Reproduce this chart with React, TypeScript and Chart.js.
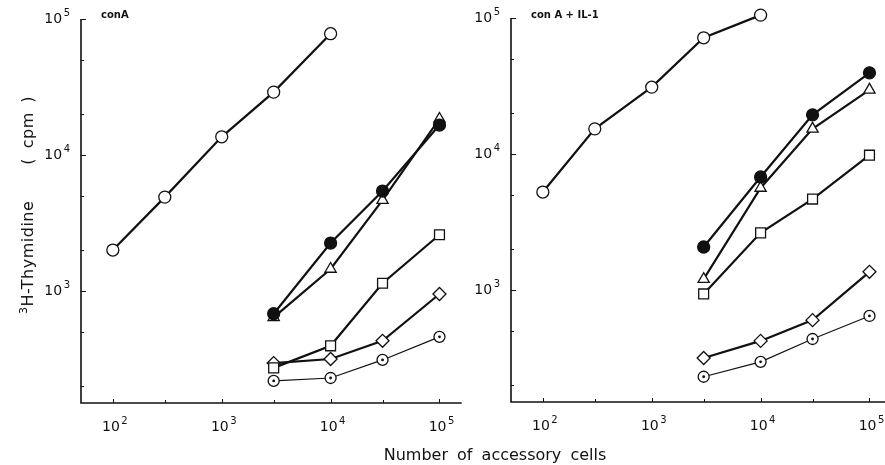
import React, { useEffect, useRef } from 'react';
import { Chart, registerables } from 'chart.js';

Chart.register(...registerables);

// x values (number of accessory cells)
const xOpen = [100, 300, 1000, 3000, 10000];
const xOther = [3000, 10000, 30000, 100000];

// conA panel (cpm)
const conAOpen = [2000, 4900, 13600, 29000, 78000];
const conAFilled = [680, 2250, 5430, 16600];
const conATriangle = [640, 1450, 4660, 18400];
const conASquare = [272, 395, 1140, 2590];
const conADiamond = [295, 316, 430, 950];
const conADotted = [218, 229, 311, 460];

// conA + IL-1 panel (cpm)
const il1Open = [5250, 15300, 31000, 71500, 105000];
const il1Filled = [2070, 6780, 19400, 39500];
const il1Triangle = [1200, 5620, 15300, 29600];
const il1Square = [935, 2630, 4660, 9800];
const il1Diamond = [316, 422, 600, 1360];
const il1Dotted = [230, 296, 436, 644];

// ticks
const xMajorTicks = [100, 1000, 10000, 100000];
const xTickLabels = ['10^2', '10^3', '10^4', '10^5'];
const xMinorTicks = [300, 3000, 30000];
const yMajorTicks = [1000, 10000, 100000];
const yTickLabels = ['10^3', '10^4', '10^5'];
const yMinorTicks = [200, 500, 2000, 5000, 20000, 50000];

const panelTitles = ['conA', 'con A + IL-1'];

const INK = '#111';
const FONT = '"DejaVu Sans", sans-serif';

function drawPower(ctx: CanvasRenderingContext2D, text: string, x: number, y: number, align: string) {
  const [base, exp] = text.split('^');
  ctx.font = `14px ${FONT}`;
  const bw = ctx.measureText(base).width;
  ctx.font = `10px ${FONT}`;
  const ew = ctx.measureText(exp).width;
  const gap = 1.5;
  const total = bw + gap + ew;
  const left = align === 'right' ? x - total : x - total / 2;
  ctx.textAlign = 'left';
  ctx.textBaseline = 'middle';
  ctx.font = `14px ${FONT}`;
  ctx.fillText(base, left, y);
  ctx.font = `10px ${FONT}`;
  ctx.fillText(exp, left + bw + gap, y - 6);
}

const axesPlugin = {
  id: 'logAxes',
  beforeDatasetsDraw(chart: any, _args: any, opts: any) {
    const { ctx, chartArea: a, scales } = chart;
    const x = scales.x;
    const y = scales.y;
    ctx.save();
    ctx.strokeStyle = INK;
    ctx.fillStyle = INK;
    ctx.lineWidth = 1.6;
    ctx.beginPath();
    ctx.moveTo(a.left, a.top);
    ctx.lineTo(a.left, a.bottom);
    ctx.lineTo(a.right, a.bottom);
    ctx.stroke();

    ctx.lineWidth = 1;
    ctx.beginPath();
    yMajorTicks.forEach((v) => {
      const py = Math.round(y.getPixelForValue(v)) + 0.5;
      ctx.moveTo(a.left, py);
      ctx.lineTo(a.left + 5, py);
    });
    yMinorTicks.forEach((v) => {
      const py = Math.round(y.getPixelForValue(v)) + 0.5;
      ctx.moveTo(a.left, py);
      ctx.lineTo(a.left + 3, py);
    });
    xMajorTicks.forEach((v) => {
      const px = Math.round(x.getPixelForValue(v)) + 0.5;
      ctx.moveTo(px, a.bottom);
      ctx.lineTo(px, a.bottom - 4);
    });
    xMinorTicks.forEach((v) => {
      const px = Math.round(x.getPixelForValue(v)) + 0.5;
      ctx.moveTo(px, a.bottom);
      ctx.lineTo(px, a.bottom - 3);
    });
    ctx.stroke();

    yMajorTicks.forEach((v, i) => {
      drawPower(ctx, yTickLabels[i], a.left - 11, y.getPixelForValue(v), 'right');
    });
    xMajorTicks.forEach((v, i) => {
      drawPower(ctx, xTickLabels[i], x.getPixelForValue(v) + 2, a.bottom + 24, 'center');
    });

    ctx.font = `bold 10px ${FONT}`;
    ctx.textAlign = 'left';
    ctx.textBaseline = 'middle';
    ctx.fillText(opts.title, a.left + 20, 15);
    ctx.restore();
  },
  afterDatasetsDraw(chart: any) {
    const { ctx } = chart;
    ctx.save();
    ctx.fillStyle = INK;
    chart.data.datasets.forEach((ds: any, i: number) => {
      if (ds.label !== 'dotted') return;
      const meta = chart.getDatasetMeta(i);
      meta.data.forEach((pt: any) => {
        ctx.beginPath();
        ctx.arc(pt.x, pt.y, 1.4, 0, Math.PI * 2);
        ctx.fill();
      });
    });
    ctx.restore();
  },
};

function pts(xs: number[], ys: number[]) {
  return xs.map((x, i) => ({ x, y: ys[i] }));
}

function buildDatasets(series: number[][]) {
  const base = {
    borderColor: INK,
    borderWidth: 2.2,
    pointBorderColor: INK,
    pointBorderWidth: 1.3,
    pointBackgroundColor: '#fff',
    tension: 0,
    clip: false as any,
    fill: false,
  };
  const [open, filled, tri, sq, dia, dot] = series;
  return [
    { ...base, label: 'open', data: pts(xOpen, open), pointStyle: 'circle', pointRadius: 6 },
    { ...base, label: 'filled', data: pts(xOther, filled), pointStyle: 'circle', pointRadius: 6, pointBackgroundColor: INK },
    { ...base, label: 'triangle', data: pts(xOther, tri), pointStyle: 'triangle', pointRadius: 6.5 },
    { ...base, label: 'square', data: pts(xOther, sq), pointStyle: 'rect', pointRadius: 7 },
    { ...base, label: 'diamond', data: pts(xOther, dia), pointStyle: 'rectRot', pointRadius: 6.5 },
    { ...base, label: 'dotted', data: pts(xOther, dot), pointStyle: 'circle', pointRadius: 5.5, borderWidth: 1.2 },
  ];
}

function Panel(props: { left: number; width: number; padding: any; series: number[][]; title: string }) {
  const ref = useRef<HTMLCanvasElement>(null);
  useEffect(() => {
    if (!ref.current) return;
    const chart = new Chart(ref.current, {
      type: 'line',
      data: { datasets: buildDatasets(props.series) as any },
      options: {
        responsive: false,
        animation: false,
        events: [],
        layout: { padding: props.padding },
        plugins: {
          legend: { display: false },
          tooltip: { enabled: false },
          logAxes: { title: props.title },
        } as any,
        scales: {
          x: { type: 'logarithmic', display: false, min: 51, max: 160000 },
          y: { type: 'logarithmic', display: false, min: 150, max: 100000 },
        },
      },
      plugins: [axesPlugin as any],
    });
    return () => chart.destroy();
  }, []);
  return (
    <canvas
      ref={ref}
      width={props.width}
      height={465}
      style={{ position: 'absolute', left: props.left, top: 0, width: props.width, height: 465 }}
    />
  );
}

export default function App() {
  return (
    <div
      style={{
        position: 'fixed',
        left: 0,
        top: 0,
        width: 885,
        height: 465,
        overflow: 'hidden',
        background: '#fff',
        color: INK,
        fontFamily: FONT,
      }}
    >
      <Panel
        left={0}
        width={470}
        padding={{ left: 81, top: 19, right: 7, bottom: 62 }}
        series={[conAOpen, conAFilled, conATriangle, conASquare, conADiamond, conADotted]}
        title={panelTitles[0]}
      />
      <Panel
        left={455}
        width={445}
        padding={{ left: 56, top: 18, right: 6, bottom: 63 }}
        series={[il1Open, il1Filled, il1Triangle, il1Square, il1Diamond, il1Dotted]}
        title={panelTitles[1]}
      />
      <div
        style={{
          position: 'absolute',
          left: 29,
          top: 205,
          transform: 'translate(-50%, -50%) rotate(-90deg)',
          whiteSpace: 'nowrap',
          fontSize: 16,
          lineHeight: '18px',
          letterSpacing: 0.5,
        }}
      >
        <span>
          <sup style={{ fontSize: 11, verticalAlign: 'baseline', position: 'relative', top: -6 }}>3</sup>H-Thymidine
        </span>
        <span style={{ marginLeft: 36, wordSpacing: 4 }}>( cpm )</span>
      </div>
      <div
        style={{
          position: 'absolute',
          left: 495,
          top: 455,
          transform: 'translate(-50%, -50%)',
          whiteSpace: 'nowrap',
          fontSize: 16,
          lineHeight: '18px',
          wordSpacing: 4,
        }}
      >
        Number of accessory cells
      </div>
    </div>
  );
}
